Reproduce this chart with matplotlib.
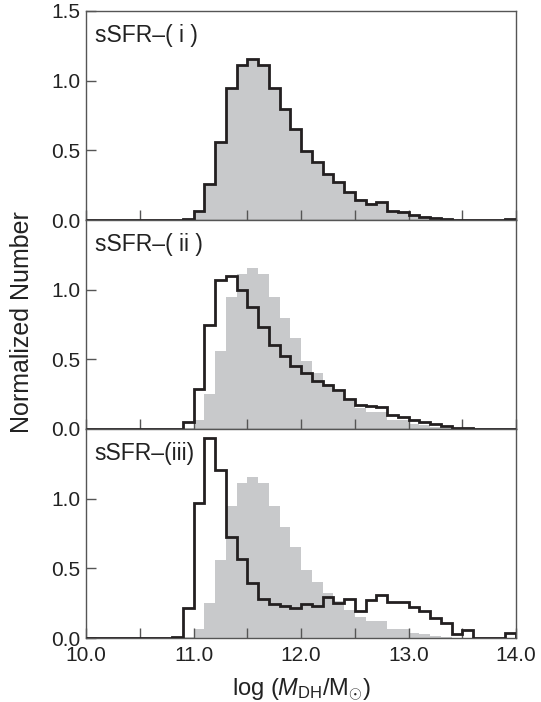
import numpy as np
import matplotlib
matplotlib.use("Agg")
import matplotlib.pyplot as plt

plt.rcParams['font.family'] = ['Liberation Sans', 'DejaVu Sans']
plt.rcParams['mathtext.fontset'] = 'custom'
plt.rcParams['mathtext.rm'] = 'Liberation Sans'
plt.rcParams['mathtext.it'] = 'Liberation Sans:italic'

# ---- data: normalized counts in 0.1-dex bins from 10.0 to 14.0 ----
bin_edges = np.round(np.arange(10.0, 14.0001, 0.1), 1)

all_galaxies = [0, 0, 0, 0, 0, 0, 0, 0, 0, 0.005,
                0.062, 0.254, 0.557, 0.95, 1.115, 1.158, 1.11, 0.947, 0.80, 0.654,
                0.49, 0.405, 0.32, 0.265, 0.20, 0.148, 0.125, 0.124, 0.068, 0.066,
                0.035, 0.028, 0.013, 0.009, 0.003, 0, 0, 0, 0, 0]

ssfr_i = [0, 0, 0, 0, 0, 0, 0, 0, 0, 0.01,
          0.067, 0.26, 0.557, 0.95, 1.115, 1.158, 1.11, 0.947, 0.80, 0.654,
          0.497, 0.413, 0.327, 0.27, 0.20, 0.144, 0.115, 0.127, 0.063, 0.055,
          0.036, 0.024, 0.016, 0.01, 0.003, 0, 0, 0, 0, 0.005]

ssfr_ii = [0, 0, 0, 0, 0, 0, 0, 0, 0, 0.048,
           0.286, 0.746, 1.07, 1.10, 1.0, 0.873, 0.729, 0.60, 0.527, 0.453,
           0.404, 0.348, 0.315, 0.278, 0.212, 0.175, 0.166, 0.155, 0.099, 0.083,
           0.065, 0.048, 0.035, 0.02, 0.009, 0.006, 0, 0, 0, 0]

ssfr_iii = [0, 0, 0, 0, 0, 0, 0, 0, 0.007, 0.213,
            0.967, 1.433, 1.207, 0.725, 0.57, 0.392, 0.277, 0.241, 0.227, 0.215,
            0.242, 0.233, 0.295, 0.253, 0.277, 0.191, 0.275, 0.307, 0.259, 0.261,
            0.226, 0.196, 0.14, 0.105, 0.026, 0.058, 0, 0, 0, 0.038]

panel_labels = ["sSFR\u2013( i )", "sSFR\u2013( ii )", "sSFR\u2013(iii)"]
x_ticks = [10.0, 10.5, 11.0, 11.5, 12.0, 12.5, 13.0, 13.5, 14.0]
x_ticklabels = ["10.0", "", "11.0", "", "12.0", "", "13.0", "", "14.0"]
y_ticks_top = [0.0, 0.5, 1.0, 1.5]
y_ticks_other = [0.0, 0.5, 1.0]

# ---- figure ----
W, H = 541, 702
fig = plt.figure(figsize=(W / 100, H / 100), dpi=100)

left = 86 / W
width = (516 - 86) / W
ph = 209 / H
bottoms = [(H - 220) / H, (H - 429) / H, (H - 638) / H]

gray = '#c8c9cb'
black = '#231f20'
spine_col = '#555555'
txt_col = '#222222'

series = [ssfr_i, ssfr_ii, ssfr_iii]
for k in range(3):
    ax = fig.add_axes([left, bottoms[k], width, ph])
    ax.stairs(all_galaxies, bin_edges, fill=True, color=gray, lw=0, zorder=1)
    ax.stairs(series[k], bin_edges, color=black, lw=2.0, zorder=3, baseline=0)
    ax.set_xlim(10.0, 14.0)
    ax.set_ylim(0, 1.5)
    for s in ax.spines.values():
        s.set_color(spine_col)
        s.set_linewidth(1.0)
    ax.tick_params(direction='in', length=7.0, width=1.0, color=spine_col,
                   labelsize=15, top=False, right=False, labelcolor=txt_col)
    ax.tick_params(axis='y', pad=4)
    ax.tick_params(axis='x', pad=6)
    ax.set_xticks(x_ticks)
    if k == 2:
        ax.set_xticklabels(x_ticklabels)
    else:
        ax.set_xticklabels([])
    yt = y_ticks_top if k == 0 else y_ticks_other
    ax.set_yticks(yt)
    ax.set_yticklabels([f"{v:.1f}" for v in yt])
    ax.text(0.02, 0.94, panel_labels[k], transform=ax.transAxes, fontsize=16.5,
            ha='left', va='top', color=txt_col)
    if k == 2:
        ax.set_xlabel(r'log ($M_{\rm DH}$/M$_{\odot}$)', fontsize=17, labelpad=8,
                      color=txt_col)

fig.text(22 / W, 1 - 322 / H, 'Normalized Number', rotation=90, fontsize=18,
         ha='center', va='center', color=txt_col)

fig.savefig('out.png', dpi=100)
